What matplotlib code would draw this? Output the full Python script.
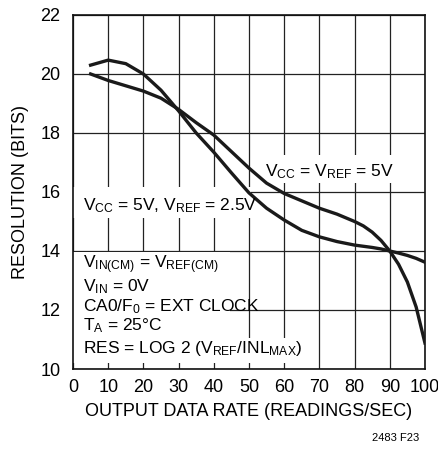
import matplotlib
matplotlib.use("Agg")
import matplotlib.pyplot as plt
from matplotlib.patches import Rectangle

plt.rcParams["font.family"] = ["Liberation Sans", "DejaVu Sans"]
plt.rcParams["mathtext.fontset"] = "custom"
plt.rcParams["mathtext.rm"] = "Liberation Sans"
plt.rcParams["mathtext.it"] = "Liberation Sans"

# ── Data ─────────────────────────────────────────────────────────────────────
rate = [5, 10, 15, 20, 25, 30, 35, 40, 45, 50, 55, 60, 65, 70, 75, 80, 82.5,
        85, 87.5, 90, 92.5, 95, 97.5, 100]

# curve with the hump at low rates, flattens out near 14 bits
res_hump = [20.3, 20.47, 20.35, 20.0, 19.45, 18.75, 18.0, 17.35, 16.65, 15.97,
            15.45, 15.05, 14.7, 14.48, 14.32, 14.2, 14.16, 14.12, 14.07, 14.0,
            13.93, 13.85, 13.75, 13.62]
# curve that starts at 20 bits and dives after 90 readings/sec
res_dive = [20.0, 19.78, 19.6, 19.42, 19.18, 18.8, 18.35, 17.93, 17.37, 16.81,
            16.3, 15.95, 15.7, 15.45, 15.25, 15.0, 14.85, 14.64, 14.36, 14.0,
            13.55, 12.95, 12.1, 10.88]

x_ticks = [0, 10, 20, 30, 40, 50, 60, 70, 80, 90, 100]
y_ticks = [10, 12, 14, 16, 18, 20, 22]

notes = [
    r"V$_{\mathrm{IN(CM)}}$ = V$_{\mathrm{REF(CM)}}$",
    r"V$_{\mathrm{IN}}$ = 0V",
    r"CA0/F$_{\mathrm{0}}$ = EXT CLOCK",
    r"T$_{\mathrm{A}}$ = 25°C",
    r"RES = LOG 2 (V$_{\mathrm{REF}}$/INL$_{\mathrm{MAX}}$)",
]
note_y = [13.4, 12.64, 11.97, 11.32, 10.55]

# ── Plot ─────────────────────────────────────────────────────────────────────
fig = plt.figure(figsize=(4.39, 4.5), dpi=100)
ax = fig.add_axes([0.1663, 0.18, 0.8017, 0.7867])

ax.set_xlim(0, 100)
ax.set_ylim(10, 22)
ax.set_xticks(x_ticks)
ax.set_yticks(y_ticks)
ax.tick_params(length=0, labelsize=13, pad=7)
ax.tick_params(axis="y", pad=9)
ax.grid(True, color="#222222", linewidth=0.9)
ax.set_axisbelow(True)
for s in ax.spines.values():
    s.set_linewidth(1.2)
    s.set_color("#111111")

# white patches behind the labels (they cut the grid)
for (x0, y0, w, h) in [(0, 15.12, 50.5, 1.05),
                       (52.6, 16.3, 39.7, 0.95),
                       (0, 10.2, 44.5, 3.75),
                       (0, 10.2, 60.5, 0.85)]:
    ax.add_patch(Rectangle((x0, y0), w, h, facecolor="white",
                           edgecolor="none", zorder=1.5))

ax.plot(rate, res_hump, color="#1a1a1a", linewidth=2.4, zorder=3)
ax.plot(rate, res_dive, color="#1a1a1a", linewidth=2.4, zorder=3)

ax.text(2.7, 15.39, r"V$_{\mathrm{CC}}$ = 5V, V$_{\mathrm{REF}}$ = 2.5V",
        fontsize=12.5, va="baseline", ha="left", zorder=4)
ax.text(54.5, 16.52, r"V$_{\mathrm{CC}}$ = V$_{\mathrm{REF}}$ = 5V",
        fontsize=12.5, va="baseline", ha="left", zorder=4)
for txt, yy in zip(notes, note_y):
    ax.text(2.7, yy, txt, fontsize=12.5, va="baseline", ha="left", zorder=4)

ax.set_xlabel("OUTPUT DATA RATE (READINGS/SEC)", fontsize=13, labelpad=5)
ax.set_ylabel("RESOLUTION (BITS)", fontsize=13, labelpad=8)

fig.text(0.955, 0.027, "2483 F23", fontsize=8, ha="right", va="center")

fig.savefig("out.png", dpi=100)
